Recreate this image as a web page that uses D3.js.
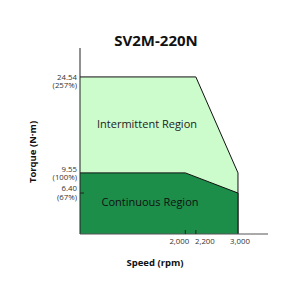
<!DOCTYPE html>
<html>
<head>
<meta charset="utf-8">
<script src="https://cdn.jsdelivr.net/npm/d3@7"></script>
<style>
  body { margin: 0; background: #fff; }
  text { font-family: "Open Sans", "Liberation Sans", sans-serif; }
</style>
</head>
<body>
<svg id="chart" width="300" height="300"></svg>
<script>
// data
const intermittentSpeed = [0, 2200, 3000, 3000];
const intermittentTorque = [24.54, 24.54, 9.55, 0];
const continuousSpeed = [0, 2000, 3000, 3000];
const continuousTorque = [9.55, 9.55, 6.40, 0];
const xTicks = [2000, 2200, 3000];
const xTickLabels = ["2,000", "2,200", "3,000"];
const yTicks = [24.54, 9.55, 6.40];
const yTickLabels = [["24.54", "(257%)"], ["9.55", "(100%)"], ["6.40", "(67%)"]];

// label nudges so they don't collide
const xLabelShift = [-6, 9, 2];
const yLabelShift = [3, -1, -2];

const svg = d3.select("#chart");
const x = d3.scaleLinear().domain([0, 3570]).range([80, 268]);
const y = d3.scaleLinear().domain([0, 29.06]).range([234, 48]);

const area = (sp, tq) => {
  const pts = [[0, 0]].concat(sp.map((s, i) => [s, tq[i]]));
  return d3.line().x(d => x(d[0])).y(d => y(d[1]))(pts) + "Z";
};
const outline = (sp, tq) => d3.line().x(d => x(d[0])).y(d => y(d[1]))(sp.map((s, i) => [s, tq[i]]));

svg.append("path").attr("d", area(intermittentSpeed, intermittentTorque)).attr("fill", "#ccfccc");
svg.append("path").attr("d", outline(intermittentSpeed, intermittentTorque))
  .attr("fill", "none").attr("stroke", "#111").attr("stroke-width", 1);
svg.append("path").attr("d", area(continuousSpeed, continuousTorque)).attr("fill", "#1d8d4a");
svg.append("path").attr("d", outline(continuousSpeed, continuousTorque))
  .attr("fill", "none").attr("stroke", "#111").attr("stroke-width", 1);

// axes
svg.append("line").attr("x1", x(0)).attr("x2", x(0)).attr("y1", y(29.06)).attr("y2", y(0))
  .attr("stroke", "#222").attr("stroke-width", 1);
svg.append("line").attr("x1", x(0)).attr("x2", x(3570)).attr("y1", y(0)).attr("y2", y(0))
  .attr("stroke", "#555").attr("stroke-width", 1);

// x ticks
xTicks.slice(0, 2).forEach(t => {
  svg.append("line").attr("x1", x(t)).attr("x2", x(t)).attr("y1", y(0)).attr("y2", y(0) - 4)
    .attr("stroke", "#222");
});
xTicks.forEach((t, i) => {
  svg.append("text").attr("x", x(t) + xLabelShift[i]).attr("y", 244)
    .attr("text-anchor", "middle").attr("font-size", 7.8).attr("fill", "#333")
    .text(xTickLabels[i]);
});

// y ticks
svg.append("line").attr("x1", x(0)).attr("x2", x(0) + 4).attr("y1", y(6.40)).attr("y2", y(6.40))
  .attr("stroke", "#222");
yTicks.forEach((t, i) => {
  const yy = y(t) + yLabelShift[i];
  svg.append("text").attr("x", 77).attr("y", yy)
    .attr("text-anchor", "end").attr("font-size", 7.8).attr("fill", "#333").text(yTickLabels[i][0]);
  svg.append("text").attr("x", 77).attr("y", yy + 8.5)
    .attr("text-anchor", "end").attr("font-size", 7.8).attr("fill", "#333").text(yTickLabels[i][1]);
});

// titles
svg.append("text").attr("x", 156).attr("y", 46).attr("text-anchor", "middle")
  .attr("font-size", 15).attr("font-weight", "bold").attr("fill", "#111").text("SV2M-220N");
svg.append("text").attr("x", 155).attr("y", 266).attr("text-anchor", "middle")
  .attr("font-size", 9.5).attr("font-weight", "bold").attr("fill", "#111").text("Speed (rpm)");
svg.append("text").attr("transform", "translate(36,152) rotate(-90)").attr("text-anchor", "middle")
  .attr("font-size", 9.5).attr("font-weight", "bold").attr("fill", "#111").text("Torque (N·m)");

// region labels
svg.append("text").attr("x", 147).attr("y", 128).attr("text-anchor", "middle")
  .attr("font-size", 11).attr("fill", "#222").text("Intermittent Region");
svg.append("text").attr("x", 150).attr("y", 206).attr("text-anchor", "middle")
  .attr("font-size", 11).attr("fill", "#111").text("Continuous Region");
</script>
</body>
</html>
